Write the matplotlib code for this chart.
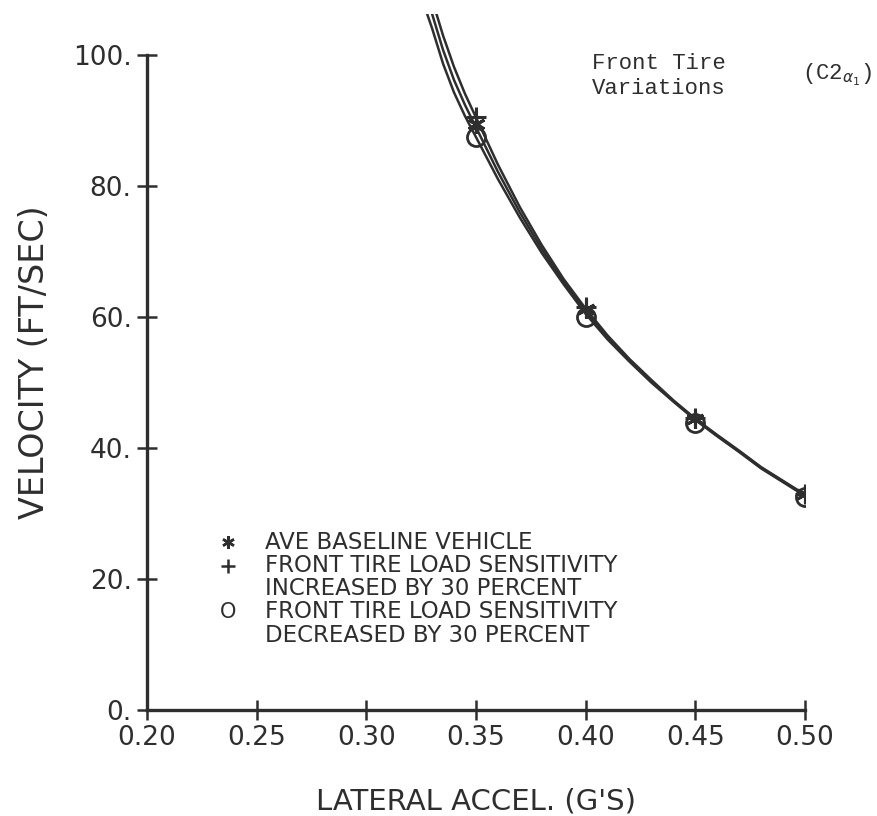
import numpy as np
import matplotlib
matplotlib.use("Agg")
import matplotlib.pyplot as plt

# lateral acceleration (g) along the curves
accel = [0.326, 0.330, 0.335, 0.340, 0.345, 0.350, 0.360, 0.370, 0.380, 0.390,
         0.400, 0.410, 0.420, 0.430, 0.440, 0.450, 0.460, 0.470, 0.480, 0.490, 0.500]
# velocity (ft/sec) for each vehicle variant
v_base = [110.5, 106.3, 100.8, 96.2, 92.4, 89.0, 82.2, 76.0, 70.4, 65.4,
          60.9, 56.9, 53.4, 50.2, 47.2, 44.4, 41.9, 39.5, 37.0, 34.9, 32.8]
v_incr = [113.0, 108.5, 103.0, 98.2, 94.1, 90.5, 83.3, 76.8, 71.0, 65.8,
          61.3, 57.2, 53.6, 50.4, 47.3, 44.5, 42.0, 39.6, 37.1, 35.0, 32.9]
v_decr = [108.0, 104.1, 98.7, 94.3, 90.7, 87.5, 81.1, 75.2, 69.8, 65.0,
          60.5, 56.6, 53.2, 50.0, 47.1, 44.3, 41.8, 39.4, 36.9, 34.8, 32.7]

# marker points
mark_x = [0.35, 0.40, 0.45, 0.50]
mark_base = [89.5, 61.2, 44.5, 33.0]
mark_incr = [90.5, 61.5, 44.6, 33.0]
mark_decr = [87.5, 60.0, 43.8, 32.6]

xticks = [0.20, 0.25, 0.30, 0.35, 0.40, 0.45, 0.50]
yticks = [0, 20, 40, 60, 80, 100]
ytick_labels = ["0.", "20.", "40.", "60.", "80.", "100."]

legend_labels = ["AVE BASELINE VEHICLE",
                 "FRONT TIRE LOAD SENSITIVITY",
                 "INCREASED BY 30 PERCENT",
                 "FRONT TIRE LOAD SENSITIVITY",
                 "DECREASED BY 30 PERCENT"]

ink = "#2e2e2e"
star = (6, 2, 0)

fig = plt.figure(figsize=(8.78, 8.16), dpi=100)
ax = fig.add_axes([0.1674, 0.1299, 0.7494, 0.853])

for v in (v_base, v_incr, v_decr):
    ax.plot(accel, v, color=ink, lw=1.8)

ax.plot(mark_x, mark_base, ls="none", marker=star, ms=13, mew=2.2, color=ink)
ax.plot(mark_x, mark_incr, ls="none", marker="+", ms=14, mew=2.2, color=ink)
ax.plot(mark_x, mark_decr, ls="none", marker="o", ms=13, mew=2.0,
        mfc="none", mec=ink)

ax.set_xlim(0.20, 0.50)
ax.set_ylim(0, 106.3)

for s in ("top", "right"):
    ax.spines[s].set_visible(False)
for s in ("left", "bottom"):
    ax.spines[s].set_linewidth(2.4)
    ax.spines[s].set_color(ink)
ax.spines["left"].set_bounds(0, 100)

ax.set_xticks(xticks)
ax.set_xticklabels(["%.2f" % t for t in xticks])
ax.set_yticks(yticks)
ax.set_yticklabels(ytick_labels)
ax.tick_params(direction="inout", length=14, width=1.8, color=ink,
               labelsize=19, labelcolor=ink)
ax.tick_params(axis="x", pad=4)
ax.tick_params(axis="y", pad=4)

ax.set_xlabel("LATERAL ACCEL. (G'S)", fontsize=21, color=ink, labelpad=26)
ax.set_ylabel("VELOCITY (FT/SEC)", fontsize=24, color=ink, labelpad=16)

# legend drawn by hand
leg_y = [0.241, 0.207, 0.175, 0.141, 0.107]
ax.plot(0.123, leg_y[0], transform=ax.transAxes, marker=star, ms=9, mew=1.8,
        color=ink, clip_on=False)
ax.plot(0.123, leg_y[1], transform=ax.transAxes, marker="+", ms=10, mew=1.8,
        color=ink, clip_on=False)
ax.text(0.123, leg_y[3], "O", transform=ax.transAxes, fontsize=15, color=ink,
        ha="center", va="center")
for y, lab in zip(leg_y, legend_labels):
    ax.text(0.179, y, lab, transform=ax.transAxes, fontsize=16.5, color=ink,
            va="center", ha="left")

fig.text(0.674, 0.907, "Front Tire\nVariations", family="Liberation Mono",
         fontsize=16, color=ink, va="center", ha="left", linespacing=1.25)
fig.text(0.913, 0.908, r"(C2$_{\alpha_1}$)", family="Liberation Mono",
         fontsize=16, color=ink, va="center", ha="left")

fig.savefig("out.png", dpi=100)
